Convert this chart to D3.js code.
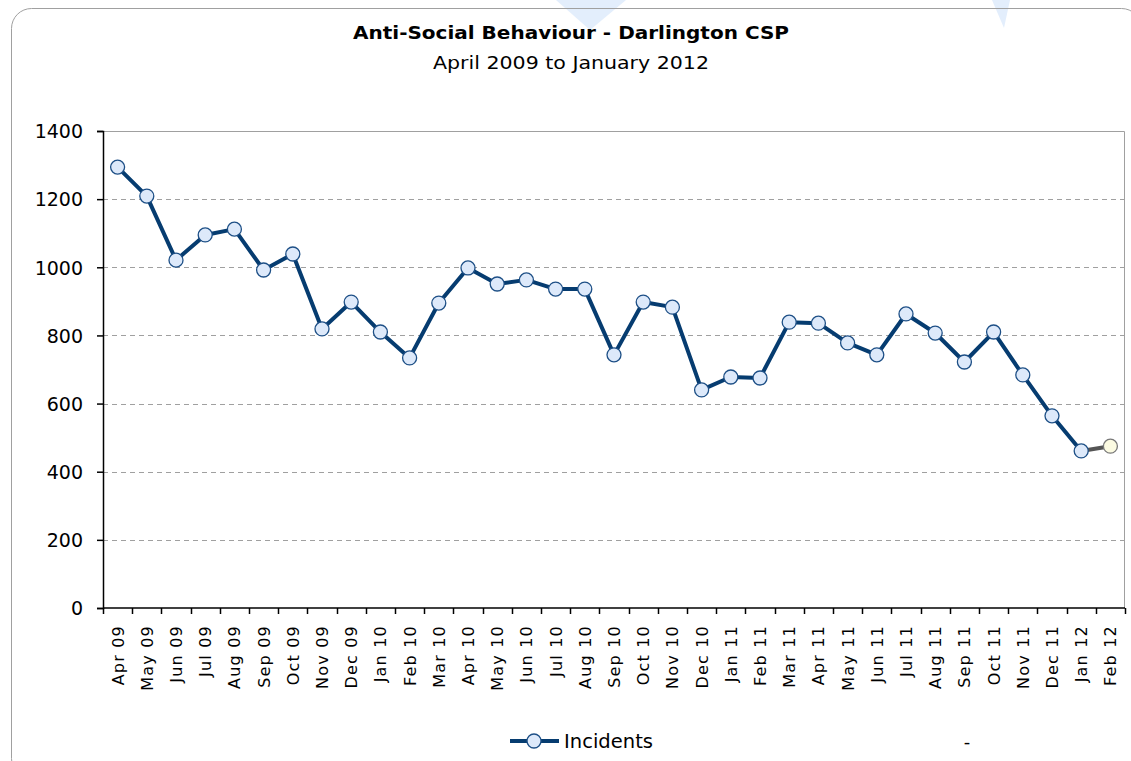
<!DOCTYPE html>
<html>
<head>
<meta charset="utf-8">
<script src="https://cdn.jsdelivr.net/npm/d3@7"></script>
<style>
  body { margin: 0; background: #fff; }
  svg { display: block; }
  text { font-family: "DejaVu Sans", Verdana, sans-serif; fill: #000; }
</style>
</head>
<body>
<div id="chart"></div>
<script>
const months = ['Apr 09','May 09','Jun 09','Jul 09','Aug 09','Sep 09','Oct 09','Nov 09','Dec 09',
  'Jan 10','Feb 10','Mar 10','Apr 10','May 10','Jun 10','Jul 10','Aug 10','Sep 10','Oct 10','Nov 10','Dec 10',
  'Jan 11','Feb 11','Mar 11','Apr 11','May 11','Jun 11','Jul 11','Aug 11','Sep 11','Oct 11','Nov 11','Dec 11',
  'Jan 12','Feb 12'];
const incidents = [1294, 1209, 1021, 1095, 1112, 992, 1039, 819, 898,
  810, 734, 895, 998, 951, 963, 936, 936, 743, 898, 883, 640,
  678, 675, 839, 836, 778, 743, 863, 807, 722, 810, 684, 564,
  461, 475];
const yTicks = [0, 200, 400, 600, 800, 1000, 1200, 1400];

const width = 1131, height = 761;
const margin = { top: 131, right: 6, bottom: 153, left: 103 };
const plotW = width - margin.left - margin.right;
const plotH = height - margin.top - margin.bottom;

const svg = d3.select('#chart').append('svg')
  .attr('width', width)
  .attr('height', height);

// faint watermark shapes at the top
svg.append('polygon').attr('points', '556,0 626,0 590,30').attr('fill', '#e3eefc');
svg.append('polygon').attr('points', '992,0 1010,0 1004,28').attr('fill', '#e3eefc');

// outer rounded frame
svg.append('rect')
  .attr('x', 11.5).attr('y', 8.5)
  .attr('width', 1130).attr('height', 770)
  .attr('rx', 20)
  .attr('fill', 'none')
  .attr('stroke', '#a0a0a0');

// titles
svg.append('text')
  .attr('x', 571).attr('y', 39)
  .attr('text-anchor', 'middle')
  .attr('font-size', 17).attr('font-weight', 'bold')
  .attr('textLength', 436).attr('lengthAdjust', 'spacingAndGlyphs')
  .text('Anti-Social Behaviour - Darlington CSP');
svg.append('text')
  .attr('x', 571).attr('y', 69)
  .attr('text-anchor', 'middle')
  .attr('font-size', 17)
  .attr('textLength', 276).attr('lengthAdjust', 'spacingAndGlyphs')
  .text('April 2009 to January 2012');

const g = svg.append('g').attr('transform', `translate(${margin.left},${margin.top})`);

const x = d3.scaleBand().domain(months).range([0, plotW]);
const y = d3.scaleLinear().domain([0, 1400]).range([plotH, 0]);

// gridlines
g.selectAll('.grid')
  .data(yTicks.filter(d => d > 0 && d < 1400))
  .enter().append('line')
  .attr('x1', 0).attr('x2', plotW)
  .attr('y1', d => Math.round(y(d)) + 0.5).attr('y2', d => Math.round(y(d)) + 0.5)
  .attr('stroke', '#a0a0a0')
  .attr('stroke-dasharray', '5,4');

// plot border top and right
g.append('path')
  .attr('d', `M0,0.5H${plotW - 0.5}V${plotH}`)
  .attr('fill', 'none')
  .attr('stroke', '#a0a0a0');

// y axis
const yAxis = g.append('g')
  .call(d3.axisLeft(y).tickValues(yTicks).tickSize(6).tickPadding(14).tickFormat(d3.format('d')));
yAxis.select('.domain').attr('stroke', '#000').attr('stroke-width', 1.5);
yAxis.selectAll('.tick line').attr('stroke', '#000').attr('stroke-width', 1.5);
yAxis.selectAll('text').attr('font-size', 19).attr('font-family', '"DejaVu Sans", Verdana, sans-serif')
  .attr('fill', '#111').attr('dy', '0.36em');

// x axis: ticks between categories
const xAxisG = g.append('g').attr('transform', `translate(0,${plotH})`);
xAxisG.append('line')
  .attr('x1', 0).attr('x2', plotW)
  .attr('stroke', '#000').attr('stroke-width', 1.5);
const boundaries = months.map(m => x(m)).concat([plotW]);
xAxisG.selectAll('.xt')
  .data(boundaries)
  .enter().append('line')
  .attr('x1', d => Math.round(d) + 0.5).attr('x2', d => Math.round(d) + 0.5)
  .attr('y1', 0).attr('y2', 6)
  .attr('stroke', '#000').attr('stroke-width', 1.5);
xAxisG.selectAll('.xl')
  .data(months)
  .enter().append('text')
  .attr('transform', d => `translate(${x(d) + x.bandwidth() / 2 + 6},${17}) rotate(-90)`)
  .attr('text-anchor', 'end')
  .attr('font-size', 16)
  .attr('letter-spacing', 1.2)
  .attr('fill', '#111')
  .text(d => d);

// series
const pts = months.map((m, i) => ({ m, v: incidents[i] }));
const line = d3.line().x(d => x(d.m) + x.bandwidth() / 2).y(d => y(d.v));
const last = pts.length - 1;

g.append('path')
  .datum(pts.slice(last - 1))
  .attr('d', line)
  .attr('fill', 'none')
  .attr('stroke', '#555555')
  .attr('stroke-width', 4);

g.append('path')
  .datum(pts.slice(0, last))
  .attr('d', line)
  .attr('fill', 'none')
  .attr('stroke', '#063c70')
  .attr('stroke-width', 4)
  .attr('stroke-linejoin', 'round');

g.selectAll('.pt')
  .data(pts)
  .enter().append('circle')
  .attr('cx', d => x(d.m) + x.bandwidth() / 2)
  .attr('cy', d => y(d.v))
  .attr('r', 7)
  .attr('fill', (d, i) => i === last ? '#fcfbe2' : '#dde9fa')
  .attr('stroke', (d, i) => i === last ? '#777777' : '#1d4f86')
  .attr('stroke-width', 1.3);

// legend
const lg = svg.append('g').attr('transform', 'translate(510,741)');
lg.append('line').attr('x1', 0).attr('x2', 49).attr('stroke', '#063c70').attr('stroke-width', 4);
lg.append('circle').attr('cx', 24).attr('r', 7).attr('fill', '#dde9fa').attr('stroke', '#1d4f86').attr('stroke-width', 1.3);
lg.append('text').attr('x', 54).attr('y', 7).attr('font-size', 19)
  .attr('textLength', 89).attr('lengthAdjust', 'spacingAndGlyphs')
  .text('Incidents');
svg.append('text').attr('x', 967).attr('y', 748).attr('font-size', 18).attr('text-anchor', 'middle').text('-');
</script>
</body>
</html>
